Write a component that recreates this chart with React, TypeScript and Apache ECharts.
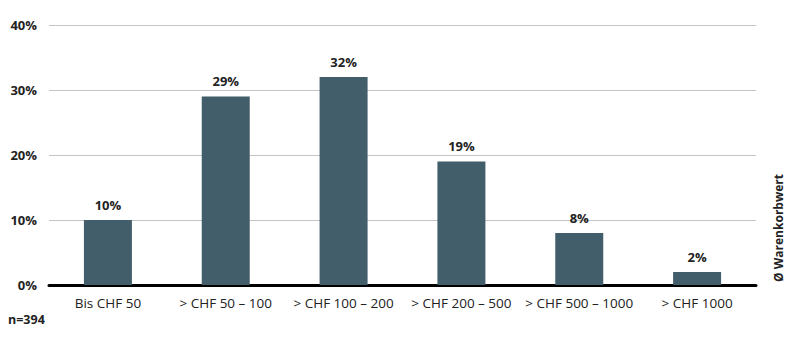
import React, { useEffect, useRef } from "react";
import * as echarts from "echarts";

const categories = [
  "Bis CHF 50",
  "> CHF 50 – 100",
  "> CHF 100 – 200",
  "> CHF 200 – 500",
  "> CHF 500 – 1000",
  "> CHF 1000",
];
const shares = [10, 29, 32, 19, 8, 2];
const yTicks = [0, 10, 20, 30, 40];
const sideTitle = "Ø Warenkorbwert";
const sampleNote = "n=394";

const FONT = "'Open Sans', 'Noto Sans', sans-serif";
const BAR = "#435e6b";

export default function App() {
  const ref = useRef<HTMLDivElement>(null);

  useEffect(() => {
    if (!ref.current) return;
    const chart = echarts.init(ref.current, undefined, { renderer: "svg" });
    chart.setOption({
      animation: false,
      grid: { left: 49, right: 30, top: 25, bottom: 67 },
      xAxis: {
        type: "category",
        data: categories,
        axisTick: { show: false },
        axisLine: { lineStyle: { color: "#000", width: 3 } },
        axisLabel: {
          color: "#222",
          fontFamily: FONT,
          fontSize: 13.5,
          margin: 11,
          interval: 0,
        },
      },
      yAxis: {
        type: "value",
        min: yTicks[0],
        max: yTicks[yTicks.length - 1],
        interval: 10,
        axisLine: { show: false },
        axisTick: { show: false },
        splitLine: { lineStyle: { color: "#c4c4c4", width: 1 } },
        axisLabel: {
          formatter: "{value}%",
          color: "#222",
          fontFamily: FONT,
          fontWeight: "bold",
          fontSize: 13,
          margin: 12,
        },
      },
      series: [
        {
          type: "bar",
          data: shares,
          barWidth: 48,
          itemStyle: { color: BAR },
          label: {
            show: true,
            position: "top",
            formatter: "{c}%",
            color: "#222",
            fontFamily: FONT,
            fontWeight: "bold",
            fontSize: 13,
            distance: 9,
          },
        },
      ],
      graphic: [
        {
          type: "text",
          x: 778,
          y: 228,
          rotation: Math.PI / 2,
          style: {
            text: sideTitle,
            fill: "#222",
            font: `bold 12px ${FONT}`,
            textAlign: "center",
            textVerticalAlign: "middle",
          },
        },
        {
          type: "text",
          left: 8,
          top: 313,
          style: {
            text: sampleNote,
            fill: "#222",
            font: `bold 12.5px ${FONT}`,
          },
        },
      ],
    });
    return () => chart.dispose();
  }, []);

  return (
    <div
      ref={ref}
      style={{ position: "absolute", left: 0, top: 0, width: 786, height: 352 }}
    />
  );
}
